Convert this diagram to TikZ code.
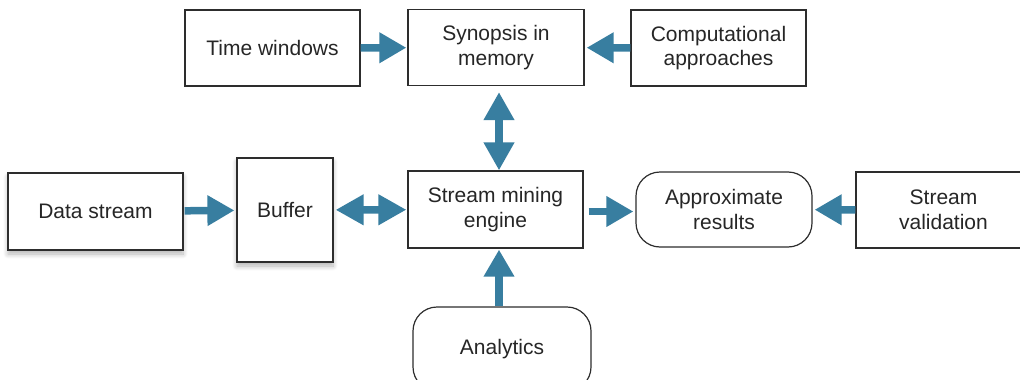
\documentclass[tikz,border=0pt]{standalone}
\usepackage{fontspec}
\setmainfont{Liberation Sans}
\usetikzlibrary{arrows.meta,shadows.blur}
\definecolor{arrblue}{RGB}{56,126,160}
\definecolor{edge}{RGB}{45,45,45}
\tikzset{
  box/.style={draw=edge, line width=1.2pt, fill=white, align=center, inner sep=2pt,
    font=\fontsize{21}{24.5}\selectfont, text=black!85},
  rbox/.style={box, rounded corners=24pt},
  shad/.style={blur shadow={shadow xshift=0pt, shadow yshift=-4pt, shadow opacity=30, shadow blur steps=8, shadow blur radius=5pt}},
  arr/.style={draw=arrblue, line width=7.5pt, -{Triangle[length=27pt,width=29pt]}, color=arrblue},
  darr/.style={draw=arrblue, line width=7.5pt, {Triangle[length=28pt,width=29pt]}-{Triangle[length=28pt,width=29pt]}, color=arrblue},
}
\begin{document}
\begin{tikzpicture}[x=1pt,y=-1pt]
\useasboundingbox (0,0) rectangle (1020,380);
\node[box, minimum width=175pt, minimum height=76pt] (tw) at (272.5,48) {Time windows};
\node[box, minimum width=176pt, minimum height=76pt] (syn) at (496,47.5) {Synopsis in\\memory};
\node[box, minimum width=175pt, minimum height=76pt] (comp) at (718.5,48) {Computational\\approaches};
\node[box, shad, minimum width=175pt, minimum height=77pt] (ds) at (95.5,211.5) {Data stream};
\node[box, shad, minimum width=96pt, minimum height=104pt] (buf) at (285,210) {Buffer};
\node[box, minimum width=175pt, minimum height=77pt] (eng) at (495.5,209.5) {Stream mining\\engine};
\node[rbox, minimum width=176pt, minimum height=75pt] (app) at (724,209.5) {Approximate\\results};
\node[box, minimum width=175pt, minimum height=76pt] (val) at (943.5,210) {Stream\\validation};
\node[rbox, minimum width=178pt, minimum height=84pt] (ana) at (502,349) {Analytics};

\coordinate (vx) at (499,0);
\draw[arr, shorten <=0pt, shorten >=1pt] (tw) -- (syn);
\draw[arr, shorten <=0pt, shorten >=2pt] (comp) -- (syn);
\draw[darr, shorten <=6pt, shorten >=0pt] (syn.south -| vx) -- (eng.north -| vx);
\draw[arr, shorten <=1pt, shorten >=2pt] (ds) -- (buf);
\draw[darr, shorten <=2pt, shorten >=1pt] (buf) -- (eng);
\draw[arr, shorten <=5pt, shorten >=2pt] ([yshift=-2pt]eng.east) -- ([yshift=-2pt]app.west);
\draw[arr, shorten <=0pt, shorten >=2pt] (val) -- (app);
\draw[arr, shorten <=0pt, shorten >=1pt] (ana.north -| vx) -- (eng.south -| vx);
\end{tikzpicture}
\end{document}
